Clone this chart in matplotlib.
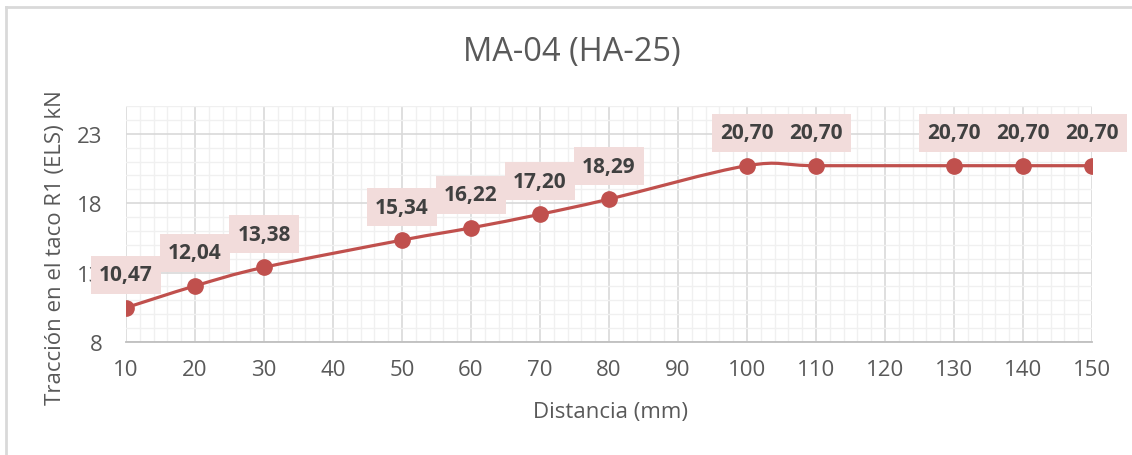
import numpy as np
import matplotlib
matplotlib.use('Agg')
import matplotlib.pyplot as plt
from matplotlib.path import Path
from matplotlib.patches import PathPatch
from matplotlib.lines import Line2D
from matplotlib.ticker import MultipleLocator

# Daten
distancia = [10, 20, 30, 50, 60, 70, 80, 100, 110, 130, 140, 150]
traccion = [10.47, 12.04, 13.38, 15.34, 16.22, 17.20, 18.29, 20.70, 20.70, 20.70, 20.70, 20.70]
x_ticks = [10, 20, 30, 40, 50, 60, 70, 80, 90, 100, 110, 120, 130, 140, 150]
y_ticks = [8, 13, 18, 23]

titulo = 'MA-04 (HA-25)'
eje_x = 'Distancia (mm)'
eje_y = 'Tracción en el taco R1 (ELS) kN'

rojo = '#C0504D'
gris_txt = '#595959'
plt.rcParams['font.family'] = ['Open Sans', 'DejaVu Sans']

fig = plt.figure(figsize=(11.32, 4.56), dpi=100)
ax = fig.add_axes([126 / 1132, (456 - 343) / 456, (1092 - 126) / 1132, (343 - 107) / 456])

# geglaettete Linie (Bezier wie in Excel)
x = np.array(distancia, dtype=float)
y = np.array(traccion, dtype=float)
verts = [(x[0], y[0])]
codes = [Path.MOVETO]
n = len(x)
for i in range(n - 1):
    i0 = max(i - 1, 0)
    i3 = min(i + 2, n - 1)
    c1 = (x[i] + (x[i + 1] - x[i0]) / 6, y[i] + (y[i + 1] - y[i0]) / 6)
    c2 = (x[i + 1] - (x[i3] - x[i]) / 6, y[i + 1] - (y[i3] - y[i]) / 6)
    verts += [c1, c2, (x[i + 1], y[i + 1])]
    codes += [Path.CURVE4] * 3
ax.add_patch(PathPatch(Path(verts, codes), fill=False, edgecolor=rojo, lw=2.3,
                       capstyle='round', zorder=3))
ax.plot(distancia, traccion, ls='none', marker='o', ms=11, color=rojo, zorder=4)

for xi, yi in zip(distancia, traccion):
    ax.annotate(f'{yi:.2f}'.replace('.', ','), (xi, yi), xytext=(0, 33),
                textcoords='offset pixels', ha='center', va='center',
                fontsize=15, fontweight='bold', color='#404040',
                bbox=dict(boxstyle='square,pad=0.4', fc='#F2DCDB', ec='none'),
                annotation_clip=False, zorder=5)

ax.set_xlim(10, 150)
ax.set_ylim(8, 25)
ax.set_xticks(x_ticks)
ax.set_yticks(y_ticks)
ax.xaxis.set_minor_locator(MultipleLocator(2))
ax.yaxis.set_minor_locator(MultipleLocator(1))
ax.grid(which='major', color='#D9D9D9', lw=1.2)
ax.grid(which='minor', color='#F0F0F0', lw=1)
ax.set_axisbelow(True)
ax.tick_params(which='both', length=0, labelsize=16, labelcolor=gris_txt)
ax.tick_params(axis='x', pad=12)
ax.tick_params(axis='y', pad=17)
for s in ['top', 'right', 'left']:
    ax.spines[s].set_visible(False)
ax.spines['bottom'].set_color('#BFBFBF')
ax.spines['bottom'].set_linewidth(1.3)

fig.text(572 / 1132, 1 - 53 / 456, titulo, ha='center', va='center', fontsize=23.5, color=gris_txt)
fig.text(610 / 1132, 1 - 413 / 456, eje_x, ha='center', va='center', fontsize=16, color=gris_txt)
fig.text(56 / 1132, 1 - 248 / 456, eje_y, ha='center', va='center', rotation=90, fontsize=16, color=gris_txt)

# Rahmen (nur oben und links sichtbar)
fig.add_artist(Line2D([6 / 1132, 1], [1 - 8 / 456, 1 - 8 / 456], color='#D9D9D9', lw=2))
fig.add_artist(Line2D([6 / 1132, 6 / 1132], [0, 1 - 8 / 456], color='#D9D9D9', lw=2))

fig.savefig('out.png', dpi=100)
